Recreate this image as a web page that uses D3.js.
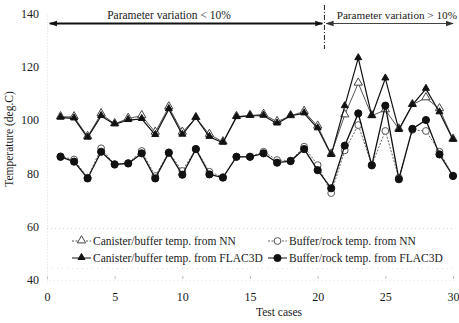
<!DOCTYPE html>
<html><head><meta charset="utf-8">
<script src="https://cdn.jsdelivr.net/npm/d3@7/dist/d3.min.js"></script>
<style>
html,body{margin:0;padding:0;background:#fff;}
svg text{font-family:"Liberation Serif","Times New Roman",serif !important;fill:#1a1a1a;}
</style></head>
<body><svg id="c" width="459" height="323"></svg>
<script>
const cases = d3.range(1, 31);
const canisterNN    = [101.2,101.2,93.8,102.3,98.6,100.6,101.6,95.4,104.9,95.4,100.9,94.6,91.8,101.3,101.7,102.1,99.4,101.6,103.2,97.7,87.2,101.9,113.8,101.6,103.8,96.6,105.8,108.3,104.2,92.8];
const canisterFLAC  = [100.9,100.6,93.4,101.5,98.4,100.0,100.4,94.4,104.1,94.5,100.9,93.7,91.5,101.1,101.6,101.6,98.7,101.6,102.5,96.9,86.9,105.2,123.2,101.5,115.6,96.3,105.7,111.7,102.9,92.6];
const rockNN        = [86.4,85.2,78.4,89.4,83.2,83.9,88.4,79.0,87.9,80.9,89.2,80.6,78.6,86.3,86.3,88.1,85.0,84.8,90.0,83.1,72.6,88.6,98.1,83.2,95.9,78.3,96.3,95.9,88.1,79.2];
const rockFLAC      = [86.2,84.4,78.1,88.1,83.4,83.7,87.5,78.1,87.7,79.5,89.1,79.6,78.4,86.2,86.2,87.5,84.0,84.6,89.1,81.2,74.4,90.4,102.5,83.0,105.4,77.8,96.7,100.0,87.1,79.0];
const xTicks = [0,5,10,15,20,25,30];
const yTicks = [40,60,80,100,120,140];
const legendLabels = ["Canister/buffer temp. from NN","Buffer/rock temp. from NN","Canister/buffer temp. from FLAC3D","Buffer/rock temp. from FLAC3D"];
const regionLabels = ["Parameter variation < 10%","Parameter variation > 10%"];
const regionBoundary = 20.5;
const SERIF = '"Liberation Serif","Times New Roman",serif';

const svg = d3.select("#c");
const x = d3.scaleLinear().domain([0,30]).range([47,453]);
const y = d3.scaleLinear().domain([40,140]).range([280,13.4]);

// faint axes (scan-like)
const xAxis = d3.axisBottom(x).tickValues(xTicks).tickSize(3).tickPadding(9);
const gx = svg.append("g").attr("transform","translate(0,"+y(40)+")").call(xAxis).attr("font-family",SERIF);
gx.select(".domain").attr("stroke","#e6e6e6").attr("stroke-dasharray","1,3");
gx.selectAll(".tick line").attr("stroke","#bbb").attr("transform","translate(0,-4)");
gx.selectAll(".tick text").style("font-size","12px").style("font-family",SERIF).attr("fill","#1a1a1a");

const yAxis = d3.axisLeft(y).tickValues(yTicks).tickSize(0).tickPadding(8);
const gy = svg.append("g").attr("transform","translate(47,0)").call(yAxis).attr("font-family",SERIF);
gy.select(".domain").attr("stroke","#ddd").attr("stroke-dasharray","1,2");
gy.selectAll(".tick text").style("font-size","12px").style("font-family",SERIF).attr("fill","#1a1a1a");

// axis titles
svg.append("text").attr("x",279).attr("y",316).attr("text-anchor","middle").style("font-size","11.5px").style("font-family",SERIF).text("Test cases");
svg.append("text").attr("transform","translate(13,139) rotate(-90)").attr("text-anchor","middle").style("font-size","11.5px").style("font-family",SERIF).text("Temperature (deg.C)");

// region arrows
const defs = svg.append("defs");
function marker(id, color, w){
  defs.append("marker").attr("id",id).attr("viewBox","0 0 10 10").attr("refX",9).attr("refY",5)
    .attr("markerWidth",w).attr("markerHeight",w).attr("orient","auto-start-reverse").attr("markerUnits","userSpaceOnUse")
    .append("path").attr("d","M0,1.5 L10,5 L0,8.5 Z").attr("fill",color);
}
marker("ah1","#111",8); marker("ah2","#333",8);
const arrowY = 23.5;
svg.append("line").attr("x1",x(0.2)).attr("x2",x(regionBoundary)-2).attr("y1",arrowY).attr("y2",arrowY)
  .attr("stroke","#111").attr("stroke-width",2).attr("marker-start","url(#ah1)").attr("marker-end","url(#ah1)");
svg.append("line").attr("x1",x(regionBoundary)+2).attr("x2",x(30)).attr("y1",arrowY).attr("y2",arrowY)
  .attr("stroke","#444").attr("stroke-width",1).attr("marker-start","url(#ah2)").attr("marker-end","url(#ah2)");
svg.append("line").attr("x1",x(regionBoundary)).attr("x2",x(regionBoundary)).attr("y1",5).attr("y2",49)
  .attr("stroke","#222").attr("stroke-width",1).attr("stroke-dasharray","5,2,1,2");
svg.append("text").attr("x",169).attr("y",19).attr("text-anchor","middle").style("font-size","11.5px").style("font-family",SERIF).text(regionLabels[0]);
svg.append("text").attr("x",457).attr("y",19).attr("text-anchor","end").style("font-size","11.2px").style("font-family",SERIF).text(regionLabels[1]);

// series
const series = [
  {vals: rockNN, type:"circle", filled:false, stroke:"#666", width:1, dash:"2,1.5"},
  {vals: canisterNN, type:"triangle", filled:false, stroke:"#555", width:1, dash:null},
  {vals: rockFLAC, type:"circle", filled:true, stroke:"#111", width:1.3, dash:null},
  {vals: canisterFLAC, type:"triangle", filled:true, stroke:"#111", width:1.2, dash:null}
];
const line = d3.line().x((d,i)=>x(cases[i])).y(d=>y(d));
const triOpen = d3.symbol().type(d3.symbolTriangle).size(30);
const triFill = d3.symbol().type(d3.symbolTriangle).size(21);

function drawMarker(g, s, px, py){
  if (s.type === "circle"){
    g.append("circle").attr("cx",px).attr("cy",py).attr("r", s.filled?3.6:3.4)
      .attr("fill", s.filled?"#111":"#fff").attr("stroke", s.filled?"#111":"#555").attr("stroke-width",1);
  } else {
    g.append("path").attr("d", s.filled?triFill():triOpen()).attr("transform","translate("+px+","+(py-0.5)+")")
      .attr("fill", s.filled?"#111":"#fff").attr("stroke", s.filled?"#111":"#444").attr("stroke-width",1);
  }
}

series.forEach(s=>{
  const g = svg.append("g");
  g.append("path").datum(s.vals).attr("d",line).attr("fill","none").attr("stroke",s.stroke)
    .attr("stroke-width",s.width).attr("stroke-dasharray",s.dash);
  s.vals.forEach((v,i)=>drawMarker(g, s, x(cases[i]), y(v)));
});

// legend
const lg = svg.append("g");
lg.append("line").attr("x1",47).attr("x2",455).attr("y1",228.5).attr("y2",228.5).attr("stroke","#ccc").attr("stroke-dasharray","1,3");
lg.append("line").attr("x1",47).attr("x2",455).attr("y1",268.5).attr("y2",268.5).attr("stroke","#e0e0e0").attr("stroke-dasharray","1,4");
const legendItems = [
  {s:series[1], lx:72, ly:241, label:legendLabels[0]},
  {s:series[0], lx:268, ly:241, label:legendLabels[1]},
  {s:series[3], lx:72, ly:258, label:legendLabels[2]},
  {s:series[2], lx:268, ly:258, label:legendLabels[3]}
];
legendItems.forEach(it=>{
  lg.append("line").attr("x1",it.lx).attr("x2",it.lx+19).attr("y1",it.ly).attr("y2",it.ly)
    .attr("stroke",it.s.stroke).attr("stroke-width",1).attr("stroke-dasharray", it.s.filled?null:"2,1.5");
  drawMarker(lg, it.s, it.lx+9.5, it.ly);
  lg.append("text").attr("x",it.lx+21).attr("y",it.ly+4).style("font-size","11.5px").style("font-family",SERIF).text(it.label);
});
</script></body></html>
